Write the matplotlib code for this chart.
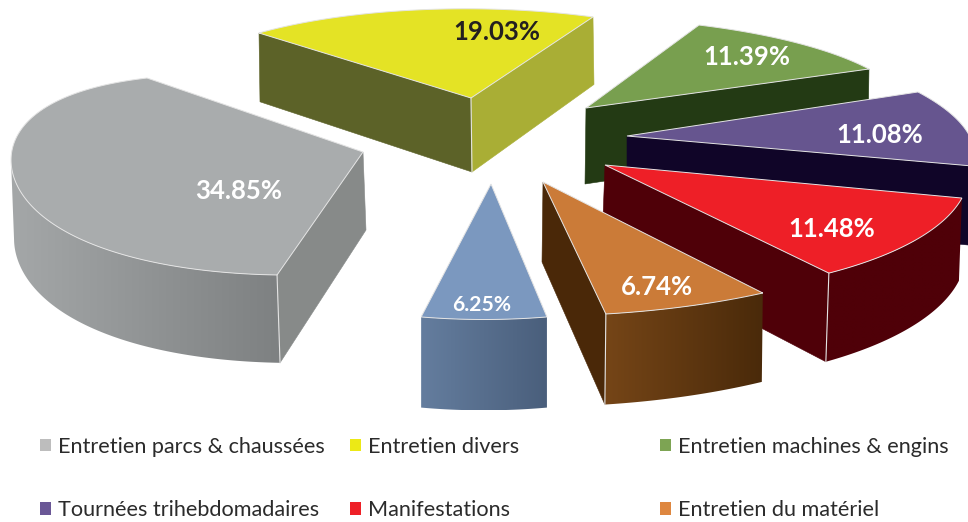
import numpy as np
import matplotlib
matplotlib.use("Agg")
import matplotlib.pyplot as plt
from matplotlib.colors import to_rgb
from matplotlib.patches import Polygon, Patch

# ---- data ----
categories = ["Entretien parcs & chaussées", "Entretien divers", "Entretien machines & engins",
              "Tournées trihebdomadaires", "Manifestations", "Entretien du matériel", ""]
values = [34.85, 19.03, 11.39, 11.08, 11.48, 6.74, 6.25]

# ---- style: colours ----
top_colors = ["#a9acad", "#e4e325", "#789f4f", "#66558f", "#ee1f27", "#cb7b38", "#7b98bf"]
plane_in = ["#878a89", "#5c6228", "#233a14", "#100528", "#4f0008", "#4a2808", "#4a5f7c"]
plane_out = ["#a0a3a4", "#a9ae35", "#233a14", "#100528", "#4f0008", "#4a2808", "#627b9c"]
rim_left = ["#a4a7a8", "#a9ae35", "#233a14", "#100528", "#4f0008", "#754517", "#647d9e"]
rim_right = ["#7e8182", "#a9ae35", "#233a14", "#100528", "#4f0008", "#4a2a0a", "#4a5f7c"]
legend_colors = ["#bdbdbd", "#ece916", "#7da453", "#6a5796", "#ee2027", "#de8740"]
label_colors = ["white", "#231f20", "white", "white", "white", "white", "white"]

# ---- style: exploded perspective projection of each slice ----
apex_x = [363, 471, 586, 627, 605, 543, 491]
apex_y = [152, 98, 108, 136, 165, 182, 184]
proj_a = [331.4, 303.7, 322.6, 344.4, 363.2, 402.9, 325.0]
proj_b = [22.25, 0.7, -17.3, -44.1, -17.6, 15.4, 7.1]
proj_c = [-18.53, 1.8, 0.5, 4.0, 1.9, 2.7, 0.0]
proj_d = [-121.7, -89.2, -90.7, -109.5, -131.0, -134.0, -135.5]
bulge = [0.12, 0, 0, 0, 0, 0, 0]
bulge_skew = [4, 1, 1, 1, 1, 1, 1]
depth_dx = [3, 1, -1, 0, -3, -1, 0]
depth_base = [78, 74, 76, 77, 80, 80, 80]
depth_slope = 0.08
draw_order = [1, 0, 2, 3, 4, 5, 6]

# ---- style: label placement ----
label_x = [239, 497, 747, 880, 832, 657, 482]
label_y = [191, 32, 57, 135, 229, 287, 305]
label_size = [18.5, 18.5, 18.5, 18.5, 18.5, 18.5, 15.2]

plt.rcParams["font.family"] = ["Lato", "DejaVu Sans"]
fig = plt.figure(figsize=(9.68, 5.22), dpi=100)
ax = fig.add_axes([0, 0, 1, 1])
ax.axis("off")

# Angles: clockwise, with the last slice centred on the bottom of the pie
shares = np.array(values) / sum(values) * 360.0
start = -90 - shares[-1] / 2 + 360
bounds = start - np.concatenate([[0], np.cumsum(shares)])

EDGE = "#e4e4e4"
z = 1
for i in draw_order:
    th = np.radians(np.linspace(bounds[i], bounds[i + 1], 160))
    t = np.linspace(0, 1, th.size)
    r = 1 + bulge[i] * np.sin(np.pi * t ** bulge_skew[i])
    u, v = r * np.cos(th), r * np.sin(th)
    x = apex_x[i] + proj_a[i] * u + proj_b[i] * v
    y = apex_y[i] + proj_c[i] * u + proj_d[i] * v
    px = np.concatenate([[apex_x[i]], x, [apex_x[i]]])
    py = np.concatenate([[apex_y[i]], y, [apex_y[i]]])
    bx = px + depth_dx[i]
    by = py + depth_base[i] + depth_slope * (py - apex_y[i])
    n = px.size

    # a side face shows when the top-face edge runs leftward on screen (clockwise outline)
    if px[1] < px[0]:
        quad = [(px[0], py[0]), (px[1], py[1]), (bx[1], by[1]), (bx[0], by[0])]
        ax.add_patch(Polygon(quad, closed=True, fc=plane_in[i], ec=plane_in[i], lw=0.4, zorder=z))
    if px[n - 1] < px[n - 2]:
        quad = [(px[n - 2], py[n - 2]), (px[n - 1], py[n - 1]), (bx[n - 1], by[n - 1]), (bx[n - 2], by[n - 2])]
        ax.add_patch(Polygon(quad, closed=True, fc=plane_out[i], ec=plane_out[i], lw=0.4, zorder=z))
    vis = np.array([k for k in range(1, n - 2) if px[k + 1] < px[k]])
    if vis.size:
        k0, k1 = vis.min(), vis.max() + 1
        rim = np.r_[np.c_[px[k0:k1 + 1], py[k0:k1 + 1]], np.c_[bx[k0:k1 + 1], by[k0:k1 + 1]][::-1]]
        clip = Polygon(rim, closed=True, fc="none", ec="none", transform=ax.transData)
        ax.add_patch(clip)
        c1, c2 = np.array(to_rgb(rim_left[i])), np.array(to_rgb(rim_right[i]))
        ramp = np.linspace(0, 1, 64)[None, :, None]
        grad = c1[None, None, :] + (c2 - c1)[None, None, :] * ramp
        im = ax.imshow(grad, extent=(rim[:, 0].min(), rim[:, 0].max(), rim[:, 1].max(), rim[:, 1].min()),
                       aspect="auto", zorder=z, interpolation="bilinear")
        im.set_clip_path(clip)
    z += 1
    # seams at the corners between two visible faces
    corner_checks = [(0, px[0] > px[1] and px[n - 2] > px[n - 1]),
                     (1, px[0] > px[1] and px[1] > px[2]),
                     (n - 2, px[n - 3] > px[n - 2] and px[n - 2] > px[n - 1])]
    ax.add_patch(Polygon(np.c_[px, py], closed=True, fc=top_colors[i], ec=EDGE, lw=0.7, zorder=z))
    for c, show in corner_checks:
        if show:
            ax.plot([px[c], bx[c]], [py[c], by[c]], color=EDGE, lw=0.8, zorder=z)
    z += 1

ax.set_xlim(0, 968)
ax.set_ylim(522, 0)

for i, val in enumerate(values):
    ax.text(label_x[i], label_y[i], f"{val:.2f}%", color=label_colors[i], fontsize=label_size[i],
            fontweight="bold", ha="center", va="center", zorder=100)

# Legend: three columns, two rows
columns = [(0, 3), (1, 4), (2, 5)]
col_x = [40, 350, 660]
fs = 15.6
for cx, (r1, r2) in zip(col_x, columns):
    handles = [Patch(fc=legend_colors[r1], ec="none"), Patch(fc=legend_colors[r2], ec="none")]
    leg = ax.legend(handles, [categories[r1], categories[r2]], loc="center left",
                    bbox_to_anchor=(cx, 478.5), bbox_transform=ax.transData, frameon=False,
                    fontsize=fs, labelcolor="#2b2b2b", borderpad=0, borderaxespad=0,
                    handlelength=0.53, handleheight=0.53, handletextpad=0.28, labelspacing=2.02)
    ax.add_artist(leg)
    ax.legend_ = None

fig.savefig("out.png", dpi=100, facecolor="white")
